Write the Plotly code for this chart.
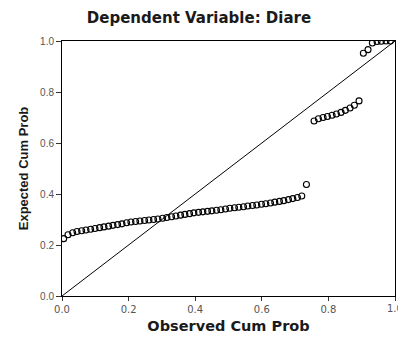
import plotly.graph_objects as go

# Observed vs expected cumulative probabilities of the regression residuals
observed = [
    0.005, 0.018, 0.032, 0.045, 0.059, 0.072, 0.086, 0.099, 0.113, 0.126,
    0.140, 0.153, 0.167, 0.180, 0.194, 0.207, 0.221, 0.234, 0.248, 0.261,
    0.275, 0.288, 0.302, 0.315, 0.329, 0.342, 0.356, 0.369, 0.383, 0.396,
    0.410, 0.423, 0.437, 0.450, 0.464, 0.477, 0.491, 0.504, 0.518, 0.531,
    0.545, 0.558, 0.572, 0.585, 0.599, 0.612, 0.626, 0.639, 0.653, 0.666,
    0.680, 0.693, 0.707, 0.720, 0.734,
    0.757, 0.770, 0.784, 0.797, 0.811, 0.824, 0.838, 0.851, 0.865, 0.878,
    0.892,
    0.905, 0.919, 0.932, 0.946, 0.959, 0.973, 0.986,
]
expected = [
    0.225, 0.240, 0.248, 0.253, 0.256, 0.259, 0.262, 0.265, 0.268, 0.271,
    0.274, 0.277, 0.280, 0.283, 0.287, 0.290, 0.292, 0.294, 0.296, 0.298,
    0.300, 0.302, 0.305, 0.308, 0.311, 0.314, 0.317, 0.320, 0.323, 0.326,
    0.328, 0.330, 0.332, 0.334, 0.336, 0.338, 0.341, 0.344, 0.346, 0.348,
    0.350, 0.353, 0.355, 0.357, 0.360, 0.362, 0.365, 0.368, 0.371, 0.374,
    0.378, 0.382, 0.386, 0.392, 0.437,
    0.686, 0.695, 0.700, 0.704, 0.709, 0.714, 0.720, 0.728, 0.737, 0.748,
    0.765,
    0.952, 0.966, 0.992, 0.998, 0.999, 1.000, 1.000,
]
ref_line = [0.0, 1.0]
tick_vals = [0.0, 0.2, 0.4, 0.6, 0.8, 1.0]
tick_text = ["0.0", "0.2", "0.4", "0.6", "0.8", "1.0"]

fig = go.Figure()
fig.add_trace(go.Scatter(
    x=ref_line, y=ref_line, mode="lines",
    line=dict(color="black", width=1), hoverinfo="skip",
))
fig.add_trace(go.Scatter(
    x=observed, y=expected, mode="markers",
    marker=dict(symbol="circle-open", size=6, color="black",
                line=dict(width=1.1, color="black")),
))

axis_common = dict(
    range=[0, 1], tickvals=tick_vals, ticktext=tick_text,
    showgrid=False, zeroline=False, showline=True, linecolor="black",
    linewidth=1, mirror=True, ticks="outside", tickcolor="#333",
)

x_tick_font = dict(family="DejaVu Sans", size=10, color="#555")

fig.update_layout(
    width=398, height=341,
    margin=dict(l=62, r=3, t=41, b=45),
    paper_bgcolor="white", plot_bgcolor="white",
    showlegend=False,
    title=dict(
        text="<b>Dependent Variable: Diare</b>",
        x=0.5, xanchor="center", y=0.948, yanchor="middle",
        font=dict(family="DejaVu Sans", size=15, color="#1a1a1a"),
    ),
    xaxis=dict(
        **axis_common, ticklen=4, tickfont=x_tick_font,
        title=dict(text="<b>Observed Cum Prob</b>", standoff=6,
                   font=dict(family="DejaVu Sans", size=14.5, color="#1a1a1a")),
    ),
    yaxis=dict(
        **axis_common, ticklen=5,
        tickfont=dict(family="Liberation Sans", size=10, color="#555"),
        title=dict(text="<b>Expected Cum Prob</b>", standoff=8,
                   font=dict(family="Liberation Sans", size=13, color="#1a1a1a")),
    ),
)

# The last x tick label runs past the right edge of the canvas; draw it anyway
fig.add_annotation(
    x=tick_vals[-1], xref="x", y=0, yref="paper",
    text=tick_text[-1], showarrow=False, xanchor="center", yanchor="top",
    yshift=-5, font=x_tick_font,
)

fig.write_html("out.html")
